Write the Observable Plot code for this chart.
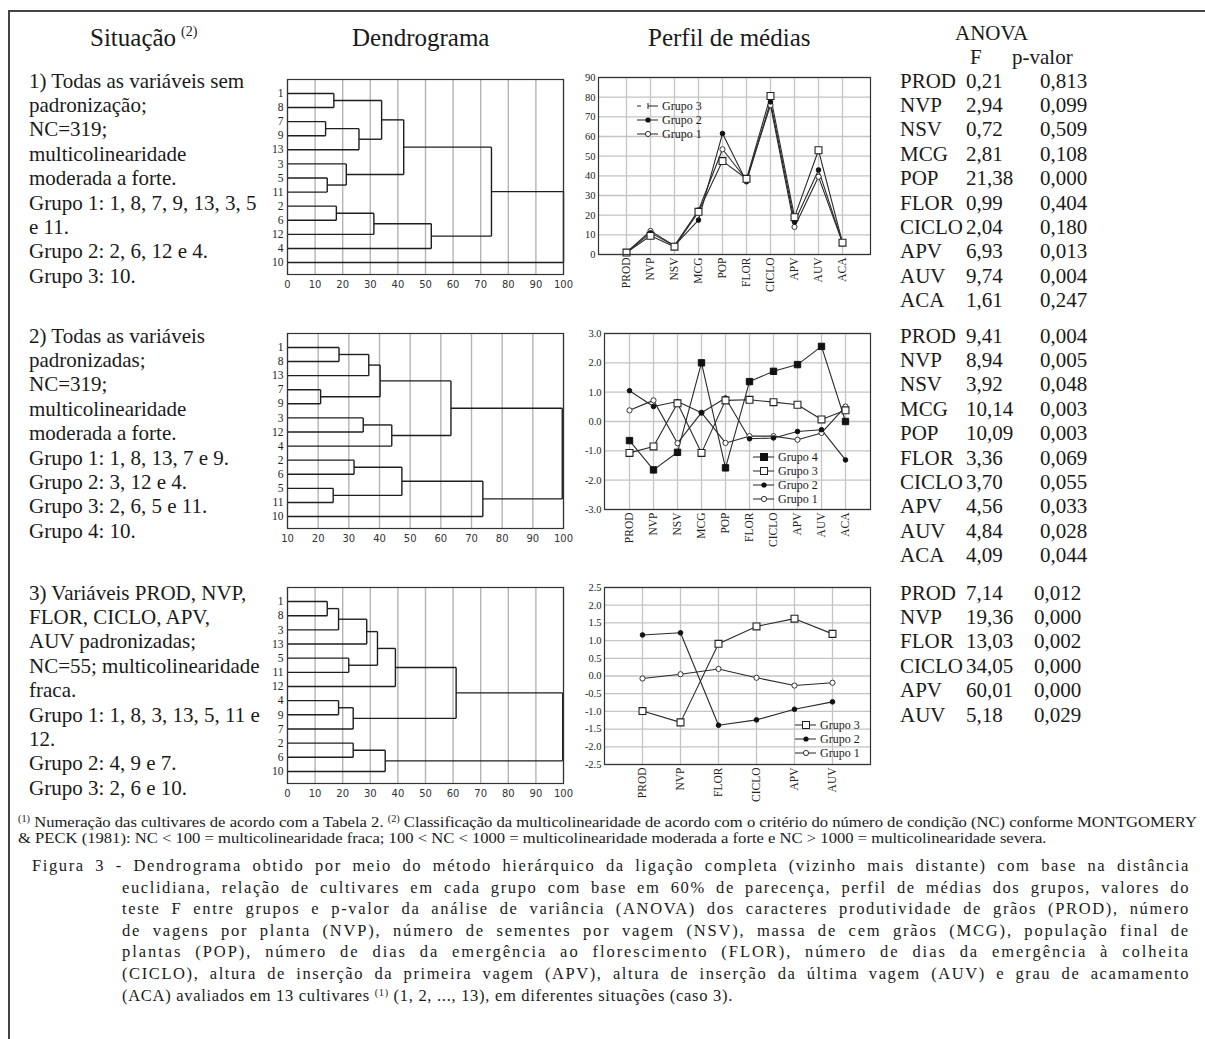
<!DOCTYPE html>
<html><head><meta charset="utf-8">
<script src="https://cdn.jsdelivr.net/npm/d3@7"></script>
<script src="https://cdn.jsdelivr.net/npm/@observablehq/plot@0.6"></script>
<style>
body{margin:0;background:#fff;}
#page{position:relative;width:1205px;height:1039px;font-family:"Liberation Serif","Times New Roman",serif;color:#1a1a1a;overflow:hidden;background:#fff}
.t{position:absolute;white-space:nowrap;line-height:1}
</style></head><body><div id="page"></div>
<script>
// ---------------- DATA ----------------
const headers = ["Situação", "Dendrograma", "Perfil de médias", "ANOVA", "F", "p-valor"];

const situacao1 = ["1) Todas as variáveis sem", "padronização;", "NC=319;", "multicolinearidade", "moderada a forte.",
  "Grupo 1: 1, 8, 7, 9, 13, 3, 5", "e 11.", "Grupo 2: 2, 6, 12 e 4.", "Grupo 3: 10."];
const situacao2 = ["2) Todas as variáveis", "padronizadas;", "NC=319;", "multicolinearidade", "moderada a forte.",
  "Grupo 1: 1, 8, 13, 7 e 9.", "Grupo 2: 3, 12 e 4.", "Grupo 3: 2, 6, 5 e 11.", "Grupo 4: 10."];
const situacao3 = ["3) Variáveis PROD, NVP,", "FLOR, CICLO, APV,", "AUV padronizadas;", "NC=55; multicolinearidade",
  "fraca.", "Grupo 1: 1, 8, 3, 13, 5, 11 e", "12.", "Grupo 2: 4, 9 e 7.", "Grupo 3: 2, 6 e 10."];

// dendrograms: nested [left, right, height]; leaves are cultivar numbers
const dendro1 = [[[[[1, 8, 16.8], [[7, 9, 13.8], 13, 25.9], 34.1], [3, [5, 11, 14.4], 21.3], 42.1],
                  [[[2, 6, 17.7], 12, 31.3], 4, 52.1], 73.9], 10, 100];
const dendro2 = [[[[[1, 8, 26.8], 13, 36.5], [7, 9, 20.8], 40.2], [[3, 12, 34.7], 4, 44.0], 63.3],
                 [[[2, 6, 31.7], [5, 11, 24.9], 47.3], 10, 73.7], 99.6];
const dendro3 = [[[[[[[1, 8, 14.4], 3, 18.5], 13, 28.7], [5, 11, 22.2], 32.6], 12, 39.1],
                  [[4, 9, 18.5], 7, 23.8], 61.1], [[2, 6, 23.8], 10, 35.4], 99.7];
const dendroTicks1 = [0, 10, 20, 30, 40, 50, 60, 70, 80, 90, 100];
const dendroTicks2 = [10, 20, 30, 40, 50, 60, 70, 80, 90, 100];

// profile of means
const cats10 = ["PROD", "NVP", "NSV", "MCG", "POP", "FLOR", "CICLO", "APV", "AUV", "ACA"];
const cats6 = ["PROD", "NVP", "FLOR", "CICLO", "APV", "AUV"];
const s1Names = ["Grupo 1", "Grupo 2", "Grupo 3"];
const s1Grupo1 = [1, 12, 4.5, 22.5, 53.5, 38, 76, 14, 39.5, 6];
const s1Grupo2 = [1, 11, 4.5, 17.5, 61.5, 37, 77.6, 16.5, 43, 6];
const s1Grupo3 = [1, 9.5, 4, 21.7, 47.5, 38.5, 80.6, 19, 53, 6];
const s1Ticks = [0, 10, 20, 30, 40, 50, 60, 70, 80, 90];

const s2Names = ["Grupo 1", "Grupo 2", "Grupo 3", "Grupo 4"];
const s2Grupo1 = [0.38, 0.72, -0.74, 0.3, -0.73, -0.5, -0.5, -0.62, -0.39, 0.51];
const s2Grupo2 = [1.05, 0.51, 0.68, 0.3, 0.8, -0.59, -0.56, -0.34, -0.28, -1.31];
const s2Grupo3 = [-1.07, -0.85, 0.62, -1.07, 0.72, 0.74, 0.66, 0.57, 0.07, 0.38];
const s2Grupo4 = [-0.65, -1.65, -1.05, 2.0, -1.58, 1.36, 1.71, 1.94, 2.56, 0.0];
const s2Ticks = [-3, -2, -1, 0, 1, 2, 3];

const s3Names = ["Grupo 1", "Grupo 2", "Grupo 3"];
const s3Grupo1 = [-0.07, 0.05, 0.2, -0.05, -0.27, -0.19];
const s3Grupo2 = [1.16, 1.22, -1.39, -1.24, -0.94, -0.73];
const s3Grupo3 = [-0.99, -1.31, 0.91, 1.4, 1.62, 1.19];
const s3Ticks = [-2.5, -2, -1.5, -1, -0.5, 0, 0.5, 1, 1.5, 2, 2.5];

// ANOVA
const anova1Vars = ["PROD", "NVP", "NSV", "MCG", "POP", "FLOR", "CICLO", "APV", "AUV", "ACA"];
const anova1F = ["0,21", "2,94", "0,72", "2,81", "21,38", "0,99", "2,04", "6,93", "9,74", "1,61"];
const anova1P = ["0,813", "0,099", "0,509", "0,108", "0,000", "0,404", "0,180", "0,013", "0,004", "0,247"];
const anova2Vars = ["PROD", "NVP", "NSV", "MCG", "POP", "FLOR", "CICLO", "APV", "AUV", "ACA"];
const anova2F = ["9,41", "8,94", "3,92", "10,14", "10,09", "3,36", "3,70", "4,56", "4,84", "4,09"];
const anova2P = ["0,004", "0,005", "0,048", "0,003", "0,003", "0,069", "0,055", "0,033", "0,028", "0,044"];
const anova3Vars = ["PROD", "NVP", "FLOR", "CICLO", "APV", "AUV"];
const anova3F = ["7,14", "19,36", "13,03", "34,05", "60,01", "5,18"];
const anova3P = ["0,012", "0,000", "0,002", "0,000", "0,000", "0,029"];

const footnote1 = ["Numeração das cultivares de acordo com a Tabela 2.", "Classificação da multicolinearidade de acordo com o critério do número de condição (NC) conforme MONTGOMERY"];
const footnote2 = "& PECK (1981): NC < 100 = multicolinearidade fraca; 100 < NC < 1000 = multicolinearidade moderada a forte e NC > 1000 = multicolinearidade severa.";
const captionLines = [
  "Figura 3 - Dendrograma obtido por meio do método hierárquico da ligação completa (vizinho mais distante) com base na distância",
  "euclidiana, relação de cultivares em cada grupo com base em 60% de parecença, perfil de médias dos grupos, valores do",
  "teste F entre grupos e p-valor da análise de variância (ANOVA) dos caracteres produtividade de grãos (PROD), número",
  "de vagens por planta (NVP), número de sementes por vagem (NSV), massa de cem grãos (MCG), população final de",
  "plantas (POP), número de dias da emergência ao florescimento (FLOR), número de dias da emergência à colheita",
  "(CICLO), altura de inserção da primeira vagem (APV), altura de inserção da última vagem (AUV) e grau de acamamento",
  "(ACA) avaliados em 13 cultivares ", " (1, 2, ..., 13), em diferentes situações (caso 3)."
];

// ---------------- HELPERS ----------------
const page = document.getElementById("page");
const esc = s => s.replace(/&/g, "&amp;").replace(/</g, "&lt;").replace(/>/g, "&gt;");
function txt(html, x, y, fs, extra = {}) {
  const d = document.createElement("div");
  d.className = "t"; d.innerHTML = html;
  d.style.left = x + "px"; d.style.top = (y - 0.54 * fs) + "px"; d.style.fontSize = fs + "px";
  Object.assign(d.style, extra);
  page.appendChild(d); return d;
}
function box(l, t, w, h, c) {
  const d = document.createElement("div");
  Object.assign(d.style, {position: "absolute", left: l + "px", top: t + "px", width: w + "px", height: h + "px", background: c});
  page.appendChild(d);
}
function place(node, left, top) {
  node.style.position = "absolute"; node.style.left = left + "px"; node.style.top = top + "px";
  page.appendChild(node);
}

function layoutTree(tree, xmin) {
  const segs = [], leaves = []; let idx = 0;
  (function walk(n) {
    if (typeof n === "number") { leaves.push(n); return {y: idx++, h: xmin}; }
    const a = walk(n[0]), b = walk(n[1]), h = n[2];
    segs.push({x1: a.h, y1: a.y, x2: h, y2: a.y}, {x1: b.h, y1: b.y, x2: h, y2: b.y}, {x1: h, y1: a.y, x2: h, y2: b.y});
    return {y: (a.y + b.y) / 2, h};
  })(tree);
  return {segs, leaves};
}

function dendrogram(tree, ticks, fx, fy, fw, fh) {
  const {segs, leaves} = layoutTree(tree, ticks[0]);
  const n = leaves.length;
  const ml = 30, mr = 8, mt = 4, mb = 22;
  const svg = Plot.plot({
    width: fw + ml + mr, height: fh + mt + mb,
    marginLeft: ml, marginRight: mr, marginTop: mt, marginBottom: mb,
    style: {fontFamily: "Liberation Serif", fontSize: "11px", color: "#222", background: "transparent", overflow: "visible"},
    x: {domain: [ticks[0], 100]},
    y: {domain: [n - 0.15, -0.99]},
    marks: [
      Plot.gridX(ticks, {stroke: "#b4b4b4", strokeOpacity: 1, strokeWidth: 1.4}),
      Plot.link(segs, {x1: "x1", y1: "y1", x2: "x2", y2: "y2", stroke: "#1e1e1e", strokeWidth: 1.4}),
      Plot.frame({stroke: "#333", strokeWidth: 1.2}),
      Plot.axisX(ticks, {tickSize: 0, tickPadding: 6, label: null, fontFamily: "DejaVu Sans", fontSize: 10, fill: "#333"}),
      Plot.axisY(d3.range(n), {tickSize: 0, tickPadding: 4, label: null, tickFormat: i => leaves[i], fontSize: 11.5, fill: "#222"})
    ]
  });
  place(svg, fx - ml, fy - mt);
}

const markerStyles = {
  openSquare: {symbol: "square", r: 3.9, fill: "#fff", stroke: "#222", strokeWidth: 1.1},
  filledSquare: {symbol: "square", r: 3.6, fill: "#111", stroke: "#111", strokeWidth: 1},
  filledCircle: {symbol: "circle", r: 2.3, fill: "#111", stroke: "#111", strokeWidth: 1},
  openCircle: {symbol: "circle", r: 2.6, fill: "#fff", stroke: "#333", strokeWidth: 1}
};

function profile(cats, names, series, styles, ticks, fmt, fx, fy, fw, fh) {
  const rows = series.flatMap((vals, gi) => vals.map((v, i) => ({cat: cats[i], v, g: names[gi]})));
  const ml = 28, mr = 6, mt = 6, mb = 44;
  const marks = [
    Plot.gridX(cats, {stroke: "#c4c4c4", strokeOpacity: 1, strokeWidth: 1.3}),
    Plot.gridY(ticks, {stroke: "#c4c4c4", strokeOpacity: 1, strokeWidth: 1.3}),
    Plot.line(rows, {x: "cat", y: "v", z: "g", stroke: "#2a2a2a", strokeWidth: 1.1})
  ];
  names.forEach((nm, gi) => {
    marks.push(Plot.dot(rows.filter(r => r.g === nm), {x: "cat", y: "v", ...markerStyles[styles[gi]]}));
  });
  marks.push(
    Plot.frame({stroke: "#333", strokeWidth: 1.2}),
    Plot.axisX(cats, {tickSize: 0, tickPadding: 3, tickRotate: -90, label: null, fontSize: 11.5, fill: "#222"}),
    Plot.axisY(ticks, {tickSize: 0, tickPadding: 3, label: null, tickFormat: fmt, fontSize: 10.5, fill: "#222"})
  );
  const svg = Plot.plot({
    width: fw + ml + mr, height: fh + mt + mb,
    marginLeft: ml, marginRight: mr, marginTop: mt, marginBottom: mb,
    style: {fontFamily: "Liberation Serif", fontSize: "11px", color: "#222", background: "transparent", overflow: "visible"},
    x: {type: "point", domain: cats, padding: 1, label: null},
    y: {domain: [ticks[0], ticks[ticks.length - 1]], label: null},
    marks
  });
  place(svg, fx - ml, fy - mt);
}

const markerSvg = {
  openSquare: '<rect x="7.5" y="3.5" width="7" height="7" fill="#fff" stroke="#222"/>',
  filledSquare: '<rect x="7.5" y="3.5" width="7" height="7" fill="#111" stroke="#111"/>',
  filledCircle: '<circle cx="11" cy="7" r="2.6" fill="#111"/>',
  openCircle: '<circle cx="11" cy="7" r="2.6" fill="#fff" stroke="#333"/>',
  tickMark: '<line x1="11" x2="11" y1="4" y2="10" stroke="#222"/>'
};
function legend(labels, styles, left, top, gap, dashedFirst) {
  labels.forEach((lab, i) => {
    const row = document.createElement("div");
    Object.assign(row.style, {position: "absolute", left: left + "px", top: (top + i * gap - 7) + "px", height: "14px",
      display: "flex", alignItems: "center", fontSize: "12px", whiteSpace: "nowrap", lineHeight: "14px"});
    const line = (dashedFirst && i === 0)
      ? '<line x1="0" x2="4" y1="7" y2="7" stroke="#222"/><line x1="11" x2="21" y1="7" y2="7" stroke="#222"/>'
      : '<line x1="0" x2="21" y1="7" y2="7" stroke="#222"/>';
    row.innerHTML = `<svg width="22" height="14">${line}${markerSvg[styles[i]]}</svg><span style="margin-left:3px">${lab}</span>`;
    page.appendChild(row);
  });
}

// ---------------- FRAME LINES ----------------
box(8, 10, 1197, 1.5, "#444");
box(8, 10, 1.5, 1029, "#444");

// ---------------- HEADERS ----------------
txt(headers[0] + '<span style="font-size:14px;position:relative;top:-10px;margin-left:5px">(2)</span>', 90, 38, 25);
txt(headers[1], 352, 38, 25);
txt(headers[2], 648, 38, 25);
txt(headers[3], 955, 34, 21);
txt(headers[4], 970, 58, 21);
txt(headers[5], 1012, 58, 21);

// ---------------- LEFT COLUMN ----------------
const lh = 24.4;
situacao1.forEach((s, i) => txt(esc(s), 29, 82 + i * lh, 21));
situacao2.forEach((s, i) => txt(esc(s), 29, 337 + i * lh, 21));
situacao3.forEach((s, i) => txt(esc(s), 29, 594 + i * lh, 21));

// ---------------- ANOVA ----------------
function anova(vars, F, P, y0, px) {
  vars.forEach((v, i) => {
    const y = y0 + i * lh;
    txt(v, 900, y, 21); txt(F[i], 966, y, 21); txt(P[i], px, y, 21);
  });
}
anova(anova1Vars, anova1F, anova1P, 82, 1040);
anova(anova2Vars, anova2F, anova2P, 337, 1040);
anova(anova3Vars, anova3F, anova3P, 594, 1034);

// ---------------- DENDROGRAMS ----------------
dendrogram(dendro1, dendroTicks1, 287, 79, 276, 195);
dendrogram(dendro2, dendroTicks2, 287, 333, 276, 195);
dendrogram(dendro3, dendroTicks1, 287, 587, 276, 196);

// ---------------- PROFILES ----------------
const fmt0 = v => String(v);
const fmt1 = v => v.toFixed(1);
profile(cats10, s1Names, [s1Grupo1, s1Grupo2, s1Grupo3], ["openCircle", "filledCircle", "openSquare"], s1Ticks, fmt0, 598, 77, 272, 177);
profile(cats10, s2Names, [s2Grupo1, s2Grupo2, s2Grupo3, s2Grupo4], ["openCircle", "filledCircle", "openSquare", "filledSquare"], s2Ticks, fmt1, 604, 333, 266, 176);
profile(cats6, s3Names, [s3Grupo1, s3Grupo2, s3Grupo3], ["openCircle", "filledCircle", "openSquare"], s3Ticks, fmt1, 604, 587, 266, 177);

legend([s1Names[2], s1Names[1], s1Names[0]], ["tickMark", "filledCircle", "openCircle"], 637, 106, 14, true);
legend([s2Names[3], s2Names[2], s2Names[1], s2Names[0]], ["filledSquare", "openSquare", "filledCircle", "openCircle"], 753, 457, 14, false);
legend([s3Names[2], s3Names[1], s3Names[0]], ["openSquare", "filledCircle", "openCircle"], 795, 725, 14, false);

// ---------------- FOOTNOTE ----------------
function fitLine(html, x, y, fs, targetW, k) {
  const d = txt(html, x, y, fs, {transformOrigin: "0 0"});
  const w = d.getBoundingClientRect().width;
  const kk = k || targetW / w;
  d.style.transform = `scaleX(${kk})`;
  return kk;
}
const supS = s => `<span style="font-size:0.62em;position:relative;top:-0.5em">${s}</span>`;
const kf = fitLine(supS("(1)") + " " + esc(footnote1[0]) + " " + supS("(2)") + " " + esc(footnote1[1]), 18, 822, 15.5, 1179);
fitLine(esc(footnote2), 18, 838, 15.5, 0, kf);

// ---------------- CAPTION ----------------
const cfs = 16.5;
const lastHtml = esc(captionLines[6]) + supS("(1)") + esc(captionLines[7]);
const probe = txt(lastHtml, 0, -100, cfs);
const nChars = (captionLines[6] + "(1)" + captionLines[7]).length;
const baseLs = Math.max(0, (611 - probe.getBoundingClientRect().width) / nChars);
probe.remove();
function capLine(html, plain, x, y, w, justify) {
  const d = txt(html, x, y, cfs, {letterSpacing: baseLs + "px"});
  if (justify) {
    const w0 = d.getBoundingClientRect().width;
    const extra = Math.max(0, w - w0);
    const ls = baseLs + 0.55 * extra / plain.length;
    Object.assign(d.style, {letterSpacing: ls + "px", width: w + "px", textAlign: "justify", textAlignLast: "justify", whiteSpace: "normal"});
  }
}
const cy0 = 867, clh = 21.6;
capLine(esc(captionLines[0]), captionLines[0], 32, cy0, 1158, true);
for (let i = 1; i <= 5; i++) capLine(esc(captionLines[i]), captionLines[i], 122, cy0 + i * clh, 1068, true);
capLine(lastHtml, "", 122, cy0 + 6 * clh, 0, false);
</script></body></html>
